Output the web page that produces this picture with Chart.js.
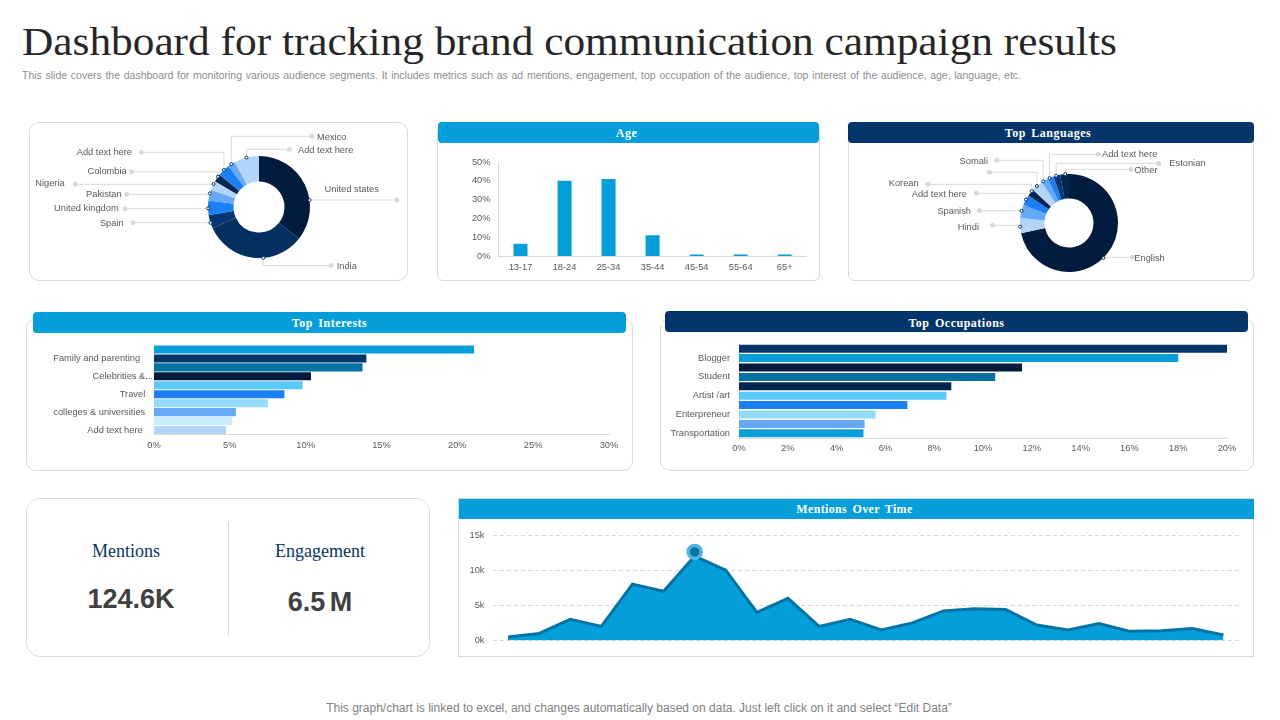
<!DOCTYPE html>
<html lang="en">
<head>
<meta charset="UTF-8">
<title>Dashboard for tracking brand communication campaign results</title>
<script src="https://cdn.jsdelivr.net/npm/chart.js"></script>
<style>
    html, body { margin: 0; padding: 0; background: #fff; }
    body { position: relative; width: 1280px; height: 720px; overflow: hidden; font-family: 'Liberation Sans', Arial, sans-serif; }
    div, canvas { position: absolute; box-sizing: border-box; }
    .card { border: 1px solid #d9d9d9; border-radius: 10px; background: #fff; }
    .head { color: #fff; font: bold 12px 'Liberation Serif', serif; letter-spacing: .5px; word-spacing: 2px; text-align: center; border-radius: 4px; }
    .blue { background: #049FDB; }
    .navy { background: #03356B; }
    .kpi-name { font: 18px 'Liberation Serif', serif; color: #03356B; text-align: center; }
    .kpi-value { font: bold 27px 'Liberation Sans', sans-serif; color: #404040; text-align: center; }
    #title { left: 22px; top: 18px; font: 39px/48px 'Liberation Serif', serif; color: #262626; white-space: nowrap; transform: scaleX(1.111); transform-origin: left center; }
    #sub { left: 22px; top: 69px; font: 10.5px/13px 'Liberation Sans', sans-serif; color: #8c8c8c; white-space: nowrap; word-spacing: .77px; }
    #foot { left: -1px; width: 1280px; top: 701px; text-align: center; font: 12px/15px 'Liberation Sans', sans-serif; color: #7f7f7f; }
</style>
</head>
<body>
<div id="title">Dashboard for tracking brand communication campaign results</div>
<div id="sub">This slide covers the dashboard for monitoring various audience segments. It includes metrics such as ad mentions, engagement, top occupation of the audience, top interest of the audience, age, language, etc.</div>

<div class="card" style="left:29px;top:122px;width:379px;height:159px"></div>
<canvas id="countries" width="376" height="157" style="left:30px;top:123px"></canvas>

<div class="card" style="left:437px;top:126px;width:383px;height:155px;border-radius:6px"></div>
<div class="head blue" style="left:438px;top:122px;width:381px;height:21px;line-height:23px;padding-right:4px">Age</div>
<canvas id="age" width="381" height="136" style="left:438px;top:144px"></canvas>

<div class="card" style="left:848px;top:126px;width:406px;height:155px;border-radius:6px"></div>
<div class="head navy" style="left:848px;top:122px;width:406px;height:21px;line-height:23px;padding-right:6px">Top Languages</div>
<canvas id="languages" width="404" height="137" style="left:849px;top:143px"></canvas>

<div class="card" style="left:26px;top:318px;width:607px;height:153px"></div>
<div class="head blue" style="left:33px;top:312px;width:593px;height:21px;line-height:23px">Top Interests</div>
<canvas id="interests" width="605" height="135" style="left:27px;top:334px"></canvas>

<div class="card" style="left:660px;top:318px;width:594px;height:153px"></div>
<div class="head navy" style="left:665px;top:311px;width:583px;height:21px;line-height:24px">Top Occupations</div>
<canvas id="occupations" width="592" height="140" style="left:661px;top:329px"></canvas>

<div class="card" style="left:26px;top:498px;width:404px;height:159px;border-radius:14px"></div>
<div style="left:228px;top:522px;width:1px;height:114px;background:#d9d9d9"></div>
<div class="kpi-name" style="left:26px;width:200px;top:541px">Mentions</div>
<div class="kpi-name" style="left:230px;width:180px;top:541px">Engagement</div>
<div class="kpi-value" style="left:31px;width:200px;top:584px">124.6K</div>
<div class="kpi-value" style="left:220px;width:200px;top:587px;word-spacing:-3px">6.5 M</div>

<div class="card" style="left:458px;top:498px;width:796px;height:159px;border-radius:0"></div>
<div class="head blue" style="left:459px;top:499px;width:795px;height:20px;line-height:20px;border-radius:0;letter-spacing:.35px;padding-right:4px">Mentions Over Time</div>
<canvas id="mentions" width="793" height="136" style="left:460px;top:520px"></canvas>

<div id="foot">This graph/chart is linked to excel, and changes automatically based on data. Just left click on it and select “Edit Data”</div>

<script>
    // Datos
    const countryNames = ['United states', 'India', 'Spain', 'United kingdom', 'Pakistan', 'Nigeria', 'Colombia', 'Add text here', 'Mexico', 'Add text here'];
    const countryValues = [35.7, 32.5, 4.4, 4.5, 3.5, 2.9, 2.5, 3.9, 2.3, 7.9];

    const languageNames = ['English', 'Hindi', 'Spanish', 'Add text here', 'Korean', '', 'Somali', 'Add text here', 'Estonian', 'Other'];
    const languageValues = [71.8, 5, 4.4, 3.5, 2.3, 3.8, 2.3, 2, 2.2, 2.9];

    const ageGroups = ['13-17', '18-24', '25-34', '35-44', '45-54', '55-64', '65+'];
    const ageValues = [6.5, 40, 41, 11, 0.8, 0.8, 0.8];

    const interestNames = ['', 'Family and parenting', '', 'Celebrities &...', '', 'Travel', '', 'colleges & universities', '', 'Add text here'];
    const interestValues = [21.1, 14, 13.75, 10.35, 9.8, 8.6, 7.5, 5.4, 5.13, 4.75];

    const occupationNames = ['', 'Blogger', '', 'Student', '', 'Artist /art', '', 'Enterpreneur', '', 'Transportation'];
    const occupationValues = [20, 18, 11.6, 10.5, 8.7, 8.5, 6.9, 5.6, 5.15, 5.1];

    const mentionValues = [500, 1000, 3000, 2000, 8000, 7000, 12000, 10000, 4000, 6000, 2000, 3000, 1500, 2500, 4200, 4500, 4400, 2200, 1500, 2400, 1300, 1400, 1700, 800];
    const mentionPeak = [null, null, null, null, null, null, 12600];
    const mentionPeriods = mentionValues.map((_, i) => String(i + 1));

    // Colores
    const navy = '#03356B', blue = '#049FDB', teal = '#0473A3', ink = '#001B3D';
    const donutColors = [ink, '#03305F', '#04376F', '#1B7FF5', '#66A9F8', '#B3D4FB', '#02264F', '#1B7FF5', '#66A9F8', '#B3D4FB'];
    const languageColors = [ink, '#B3D4FB', '#66A9F8', '#1B7FF5', '#02264F', '#B3D4FB', '#66A9F8', '#1B7FF5', '#04376F', '#03264F'];
    const interestColors = [blue, navy, teal, ink, '#5AC8FA', '#1B7FF5', '#93DBFD', '#66A9F8', '#C8ECFE', '#B3D4FB'];
    const occupationColors = [navy, blue, ink, teal, '#03264F', '#5AC8FA', '#1B7FF5', '#93DBFD', '#66A9F8', blue];

    Chart.defaults.font.family = "'Liberation Sans', Arial, sans-serif";
    Chart.defaults.font.size = 9.3;
    Chart.defaults.color = '#595959';
    Chart.defaults.animation = false;
    Chart.defaults.responsive = false;
    Chart.defaults.plugins.legend.display = false;
    Chart.defaults.plugins.tooltip.enabled = false;

    // Lineas guia de las donas: punto sobre el arco, codo vertical y punto gris
    const calloutPlugin = {
        id: 'callouts',
        afterDatasetsDraw(chart, args, opts) {
            const ctx = chart.ctx;
            const arcs = chart.getDatasetMeta(0).data;
            const box = chart.canvas.getBoundingClientRect();
            ctx.save();
            ctx.font = "9.3px 'Liberation Sans', sans-serif";
            ctx.textBaseline = 'middle';
            arcs.forEach((arc, i) => {
                const c = opts.items[i];
                const a = arc.startAngle + (arc.endAngle - arc.startAngle) * c.at;
                const x = arc.x + Math.cos(a) * arc.outerRadius;
                const y = arc.y + Math.sin(a) * arc.outerRadius;
                const dotX = c.dot[0] - box.left, dotY = c.dot[1] - box.top;
                ctx.strokeStyle = '#d9d9d9';
                ctx.lineWidth = 1;
                ctx.beginPath();
                ctx.moveTo(x, y);
                ctx.lineTo(x, dotY);
                ctx.lineTo(dotX, dotY);
                ctx.stroke();
                ctx.fillStyle = '#d9d9d9';
                ctx.beginPath();
                ctx.arc(dotX, dotY, 2.5, 0, Math.PI * 2);
                ctx.fill();
                ctx.fillStyle = '#fff';
                ctx.strokeStyle = navy;
                ctx.beginPath();
                ctx.arc(x, y, 1.5, 0, Math.PI * 2);
                ctx.fill();
                ctx.stroke();
                ctx.fillStyle = '#595959';
                ctx.textAlign = c.align;
                ctx.fillText(chart.data.labels[i], c.text[0] - box.left, c.text[1] + 1 - box.top);
            });
            ctx.restore();
        }
    };

    function donut(id, labels, values, colors, padding, items) {
        new Chart(document.getElementById(id), {
            type: 'doughnut',
            data: { labels, datasets: [{ data: values, backgroundColor: colors, borderWidth: 0 }] },
            options: { cutout: '50%', layout: { padding }, plugins: { callouts: { items } } },
            plugins: [calloutPlugin]
        });
    }

    donut('countries', countryNames, countryValues, donutColors, { left: 178, right: 96, top: 33, bottom: 22 }, [
        { at: .64, dot: [397, 200], text: [351.7, 188.7], align: 'center' },
        { at: .40, dot: [331, 265.5], text: [336.7, 265.7], align: 'left' },
        { at: .42, dot: [133, 222.7], text: [123.7, 222.7], align: 'right' },
        { at: .46, dot: [125, 208.7], text: [118.7, 207.7], align: 'right' },
        { at: .65, dot: [126.7, 194.3], text: [121.7, 193.7], align: 'right' },
        { at: .67, dot: [75.3, 184.3], text: [64.7, 182.7], align: 'right' },
        { at: .67, dot: [131.3, 171.7], text: [126.7, 170], align: 'right' },
        { at: .52, dot: [141.3, 152.3], text: [132, 151], align: 'right' },
        { at: .46, dot: [312, 136.3], text: [317, 136.7], align: 'left' },
        { at: .50, dot: [289.3, 149.3], text: [298, 149.7], align: 'left' }
    ]);

    donut('languages', languageNames, languageValues, languageColors, { left: 171, right: 135, top: 31, bottom: 8 }, [
        { at: .525, dot: [1132.3, 257.3], text: [1134.3, 257.7], align: 'left' },
        { at: .43, dot: [992.7, 225.3], text: [979, 226.7], align: 'right' },
        { at: .53, dot: [979.3, 210.7], text: [971, 210], align: 'right' },
        { at: .54, dot: [976.3, 193.3], text: [967, 193.7], align: 'right' },
        { at: .74, dot: [927.7, 184.3], text: [918.7, 182.7], align: 'right' },
        { at: .47, dot: [989.3, 172.3], text: [985, 172], align: 'right' },
        { at: .24, dot: [996.7, 160.3], text: [988, 160.7], align: 'right' },
        { at: .29, dot: [1098.3, 154.3], text: [1102, 153.7], align: 'left' },
        { at: .39, dot: [1158.7, 163.3], text: [1169.3, 162.7], align: 'left' },
        { at: .57, dot: [1131, 169.3], text: [1134.3, 169.7], align: 'left' }
    ]);

    // Ancho y alto fijos para que el area de trazado caiga donde en la referencia
    const fixWidth = w => scale => { scale.width = w; };
    const fixHeight = h => scale => { scale.height = h; };
    const axisLine = { display: true, color: '#d9d9d9', width: 1 };
    const noGrid = { display: false, drawTicks: false };

    new Chart(document.getElementById('age'), {
        type: 'bar',
        data: { labels: ageGroups, datasets: [{ data: ageValues, backgroundColor: blue, categoryPercentage: 1, barPercentage: .318 }] },
        options: {
            layout: { padding: { top: 18, right: 12.3 } },
            scales: {
                x: { grid: noGrid, border: axisLine, ticks: { padding: 6, autoSkip: false, maxRotation: 0 }, afterFit: fixHeight(24) },
                y: { min: 0, max: 50, grid: noGrid, border: axisLine,
                    ticks: { stepSize: 10, padding: 8, callback: v => v + '%' }, afterFit: fixWidth(60.5) }
            }
        }
    });

    function hbars(id, labels, values, colors, max, step, axisW, axisH, padding, barPct, yBorder, labelTick) {
        new Chart(document.getElementById(id), {
            type: 'bar',
            data: { labels, datasets: [{ data: values, backgroundColor: colors, categoryPercentage: 1, barPercentage: barPct }] },
            options: {
                indexAxis: 'y',
                layout: { padding },
                scales: {
                    x: { min: 0, max, grid: noGrid, border: axisLine,
                        ticks: { stepSize: step, padding: 5, maxRotation: 0, callback: v => v + '%' }, afterFit: fixHeight(axisH) },
                    y: { grid: noGrid, border: yBorder,
                        ticks: labelTick, afterFit: fixWidth(axisW) }
                }
            }
        });
    }

    // Family/Travel/... no terminan alineadas a la derecha en la referencia
    const interestGaps = [0, 5, 0, 0, 0, 3, 0, 3, 0, 4];
    hbars('interests', interestNames, interestValues, interestColors, 30, 5, 127, 34.5, { top: 11, right: 23 }, .9, { display: false }, {
        autoSkip: false, padding: 1,
        callback(v, i) { return interestNames[i] + '\u00a0'.repeat(interestGaps[i]); }
    });
    hbars('occupations', occupationNames, occupationValues, occupationColors, 20, 2, 78, 31, { top: 15, right: 26 }, .85, axisLine, {
        autoSkip: false, padding: 9
    });

    new Chart(document.getElementById('mentions'), {
        type: 'line',
        data: {
            labels: mentionPeriods,
            datasets: [
                { data: mentionPeak, showLine: false, pointRadius: 6.5, pointBorderWidth: 3.5, pointBackgroundColor: teal, pointBorderColor: '#4DB5E4', order: 0 },
                { data: mentionValues, borderColor: teal, borderWidth: 3, backgroundColor: blue, fill: 'origin', tension: 0, pointRadius: 0, order: 1 }
            ]
        },
        options: {
            layout: { padding: { top: 15, right: 14, bottom: 15.5 } },
            scales: {
                x: { display: false, offset: true },
                y: { min: 0, max: 15000, border: { display: false, dash: [4, 3] },
                    grid: { color: '#d9d9d9', drawTicks: false, lineWidth: 1 },
                    ticks: { stepSize: 5000, padding: 8, callback: v => (v / 1000) + 'k' }, afterFit: fixWidth(32.5) }
            }
        }
    });
</script>
</body>
</html>
